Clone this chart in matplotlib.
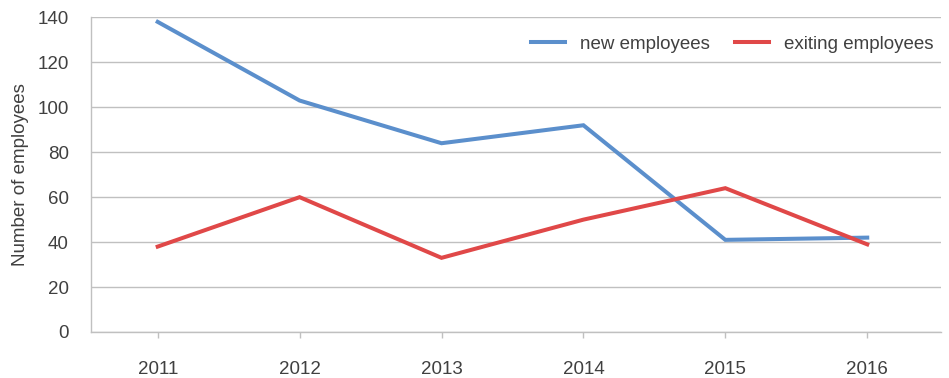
import matplotlib.pyplot as plt

plt.rcParams['font.family'] = ['Liberation Sans', 'DejaVu Sans']

years = ['2011', '2012', '2013', '2014', '2015', '2016']
new_employees = [138, 103, 84, 92, 41, 42]
exiting_employees = [38, 60, 33, 50, 64, 39]

text_col = '#404040'
grid_col = '#c0c0c0'

fig = plt.figure(figsize=(9.49, 3.78), dpi=100)
ax = fig.add_axes([0.0959, 0.1217, 0.8957, 0.8323])

x = range(len(years))
ax.plot(x, new_employees, color='#5b8fcc', lw=2.9, label='new employees',
        solid_joinstyle='miter')
ax.plot(x, exiting_employees, color='#e04848', lw=2.9, label='exiting employees',
        solid_joinstyle='miter')

ax.set_xlim(-0.47, 5.52)
ax.set_ylim(0, 140)
ax.set_yticks(range(0, 141, 20))
ax.set_xticks(list(x))
ax.set_xticklabels(years)
ax.yaxis.grid(True, color=grid_col, lw=1)
ax.set_axisbelow(True)

for s in ['top', 'right']:
    ax.spines[s].set_visible(False)
for s in ['left', 'bottom']:
    ax.spines[s].set_color(grid_col)
    ax.spines[s].set_linewidth(1)

ax.tick_params(axis='y', length=0, pad=16, labelsize=13.5, labelcolor=text_col)
ax.tick_params(axis='x', length=4, width=1, color=grid_col, pad=17,
               labelsize=13.5, labelcolor=text_col)

ax.set_ylabel('Number of employees', fontsize=13.5, color=text_col, labelpad=6)

ax.legend(loc='center right', bbox_to_anchor=(0.9906, 0.914), ncol=2,
          frameon=False, fontsize=13.5, handlelength=1.8, handletextpad=0.8,
          columnspacing=1.33, borderaxespad=0, borderpad=0,
          labelcolor=text_col)

fig.savefig('out.png', dpi=100)
